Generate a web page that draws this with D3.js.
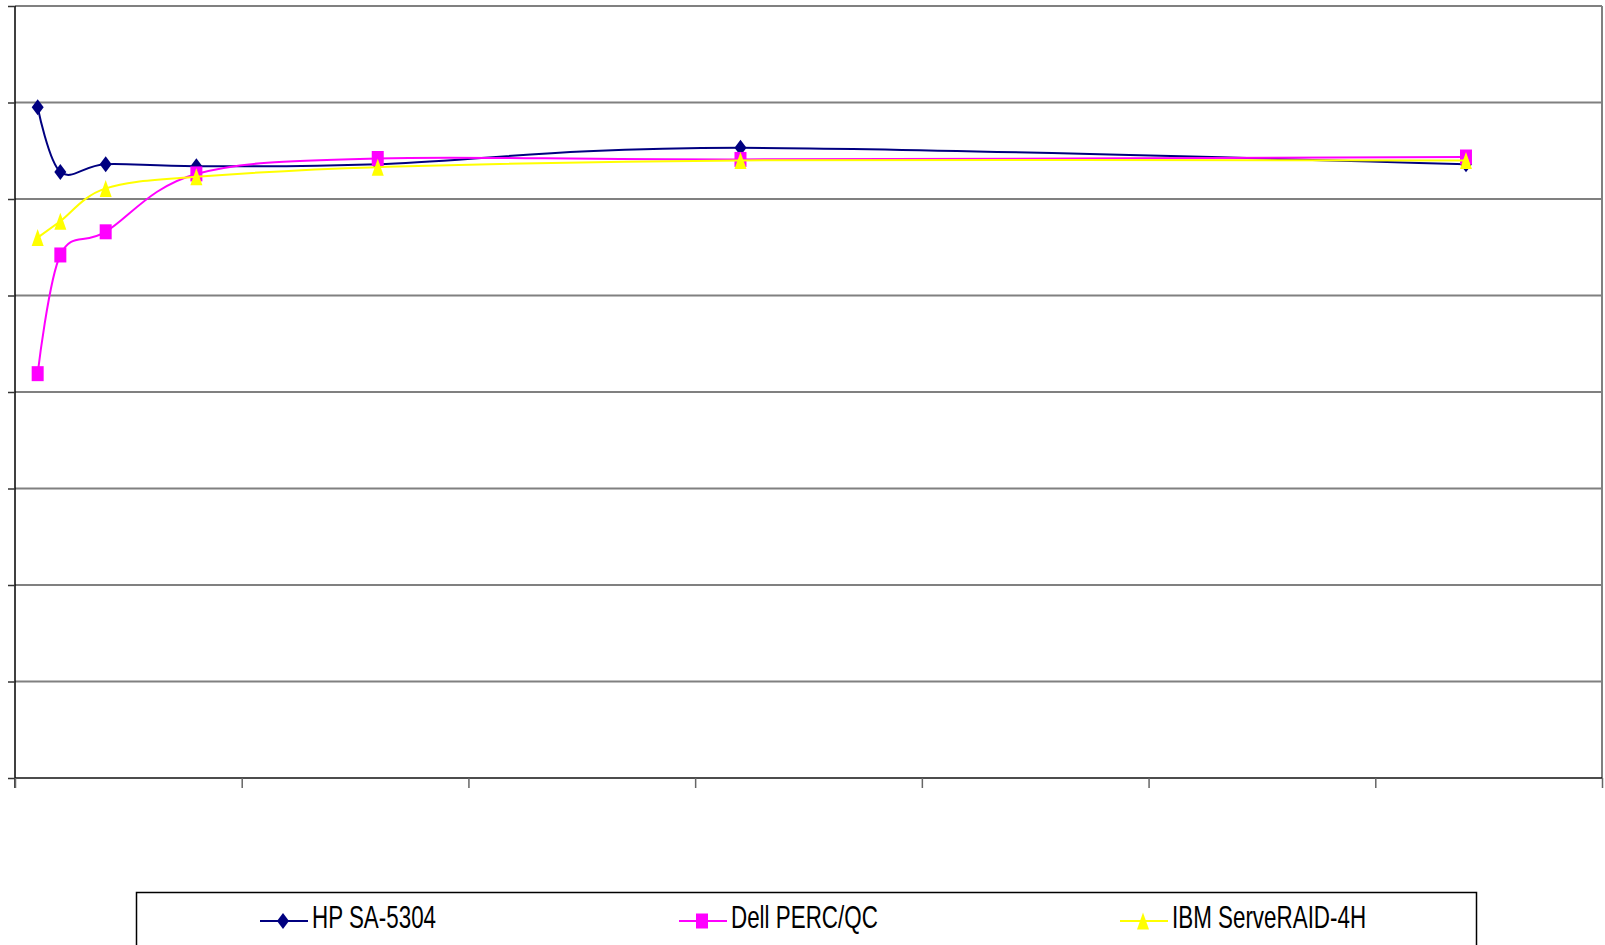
<!DOCTYPE html>
<html>
<head>
<meta charset="utf-8">
<script src="https://cdn.jsdelivr.net/npm/d3@7"></script>
<style>
  html, body { margin: 0; padding: 0; background: #fff; }
  svg { display: block; }
  text { font-family: "Liberation Sans", Arial, sans-serif; }
</style>
</head>
<body>
<svg id="chart" width="1605" height="945"></svg>
<script>
// Queue depth along the x axis
const queueDepth = [1, 2, 4, 8, 16, 32, 64];
const xTicks = [0, 10, 20, 30, 40, 50, 60, 70];
const yTicks = [0, 10, 20, 30, 40, 50, 60, 70, 80];

// Throughput per controller
const hpValues   = [69.5, 62.8, 63.6, 63.4, 63.6, 65.3, 63.6];
const dellValues = [41.9, 54.2, 56.6, 62.6, 64.2, 64.1, 64.35];
const ibmValues  = [56.0, 57.7, 61.1, 62.3, 63.3, 64.0, 64.0];

const seriesNames = ["HP SA-5304", "Dell PERC/QC", "IBM ServeRAID-4H"];

const series = [
  { name: seriesNames[0], values: hpValues,   color: "#000080", marker: "diamond" },
  { name: seriesNames[1], values: dellValues, color: "#FF00FF", marker: "square" },
  { name: seriesNames[2], values: ibmValues,  color: "#FFFF00", marker: "triangle" }
];

const svg = d3.select("#chart");
const plotLeft = 15, plotTop = 6, plotRight = 1602, plotBottom = 778;

const x = d3.scaleLinear().domain([0, 70]).range([plotLeft, plotRight]);
const y = d3.scaleLinear().domain([0, 80]).range([plotBottom, plotTop]);

// Horizontal gridlines
svg.append("g")
  .selectAll("line")
  .data(yTicks.filter(t => t > 0))
  .join("line")
  .attr("x1", plotLeft).attr("x2", plotRight)
  .attr("y1", d => y(d)).attr("y2", d => y(d))
  .attr("stroke", "#808080")
  .attr("stroke-width", 2);

// Right edge of the plot area
svg.append("line")
  .attr("x1", plotRight).attr("x2", plotRight)
  .attr("y1", plotTop).attr("y2", plotBottom)
  .attr("stroke", "#808080")
  .attr("stroke-width", 2);

// Left axis: tick marks only
const yAxis = svg.append("g")
  .attr("transform", `translate(${plotLeft},0)`)
  .call(d3.axisLeft(y).tickValues(yTicks).tickSize(7).tickFormat(""));
yAxis.select(".domain").attr("stroke", "#000").attr("stroke-width", 1.5)
  .attr("d", `M0,${plotTop}V${plotBottom + 10}`);
yAxis.selectAll(".tick line").attr("stroke", "#333").attr("stroke-width", 1.5);

// Bottom axis: tick marks only
const xAxis = svg.append("g")
  .attr("transform", `translate(0,${plotBottom})`)
  .call(d3.axisBottom(x).tickValues(xTicks).tickSize(10).tickFormat(""));
xAxis.select(".domain").attr("stroke", "#111").attr("stroke-width", 1.5)
  .attr("d", `M${plotLeft},0H${plotRight}`);
xAxis.selectAll(".tick line").attr("stroke", "#666").attr("stroke-width", 1.5);

// Marker shapes, centred on the origin
function markerPath(kind) {
  if (kind === "diamond") return "M0,-8L6,0L0,8L-6,0Z";
  if (kind === "square") return "M-6,-7.5H6V7.5H-6Z";
  return "M0,-8.5L6,8.5H-6Z";
}

const line = d3.line()
  .x((d, i) => x(queueDepth[i]))
  .y(d => y(d))
  .curve(d3.curveCardinal.tension(0));

series.forEach(s => {
  const g = svg.append("g");
  g.append("path")
    .attr("d", line(s.values))
    .attr("fill", "none")
    .attr("stroke", s.color)
    .attr("stroke-width", 2);
  g.selectAll("path.mk")
    .data(s.values)
    .join("path")
    .attr("class", "mk")
    .attr("d", markerPath(s.marker))
    .attr("transform", (d, i) => `translate(${x(queueDepth[i])},${y(d)})`)
    .attr("fill", s.color);
});

// Legend
const legend = svg.append("g");
legend.append("rect")
  .attr("x", 136.5).attr("y", 892.5)
  .attr("width", 1340).attr("height", 80)
  .attr("fill", "#fff")
  .attr("stroke", "#000")
  .attr("stroke-width", 1.5);

const legendX = [260, 679, 1120];
series.forEach((s, i) => {
  const lg = legend.append("g").attr("transform", `translate(${legendX[i]},921)`);
  lg.append("line")
    .attr("x1", 0).attr("x2", 48)
    .attr("y1", 0).attr("y2", 0)
    .attr("stroke", s.color).attr("stroke-width", 2);
  lg.append("path")
    .attr("d", markerPath(s.marker))
    .attr("transform", "translate(23,0)")
    .attr("fill", s.color);
  lg.append("text")
    .attr("transform", "translate(52,7) scale(0.7,1)")
    .attr("font-size", 32)
    .attr("fill", "#000")
    .text(s.name);
});
</script>
</body>
</html>
